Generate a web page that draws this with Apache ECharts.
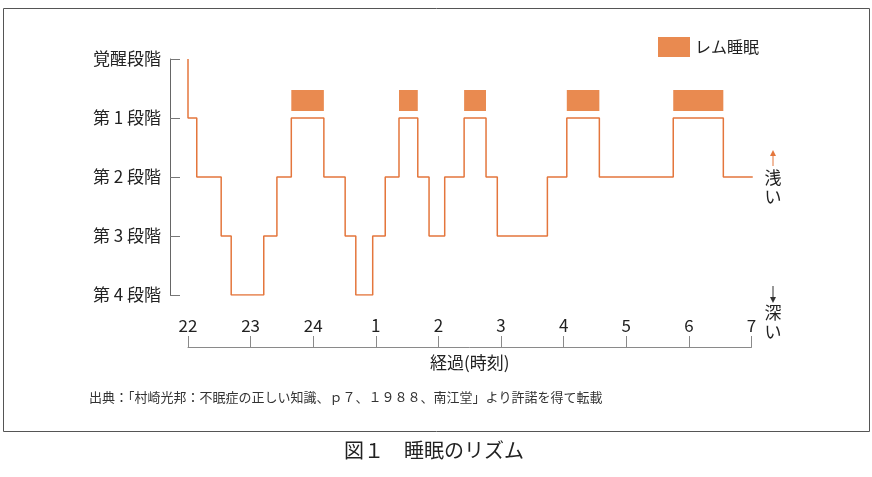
<!DOCTYPE html>
<html>
<head>
<meta charset="utf-8">
<script src="https://cdn.jsdelivr.net/npm/echarts@6/dist/echarts.min.js"></script>
<style>
  html, body { margin: 0; padding: 0; background: #fff; }
  #chart { width: 872px; height: 477px; }
</style>
</head>
<body>
<div id="chart"></div>
<script>
(function () {
var myChart = echarts.init(document.getElementById("chart"));

// 睡眠段階 (0 = 覚醒, 4 = 第4段階)
var stageLabels = ["覚醒段階", "第 1 段階", "第 2 段階", "第 3 段階", "第 4 段階"];
// 時刻 (22時からの経過時間, 1目盛 = 1時間)
var hourLabels = ["22", "23", "24", "1", "2", "3", "4", "5", "6", "7"];

// 段階が切り替わる時刻 [経過時間, 段階]
var hypnogram = [
    [0, 0], [0, 1], [0.14, 2], [0.53, 3], [0.69, 4], [1.21, 3], [1.42, 2],
    [1.65, 1], [2.17, 2], [2.51, 3], [2.68, 4], [2.95, 3], [3.15, 2],
    [3.37, 1], [3.67, 2], [3.85, 3], [4.1, 2], [4.41, 1], [4.76, 2],
    [4.94, 3], [5.74, 2], [6.05, 1], [6.57, 2], [7.75, 1], [8.55, 2], [9.02, 2]
];

// レム睡眠の期間 [開始, 終了]
var remPeriods = [
    [1.65, 2.17], [3.37, 3.67], [4.41, 4.76], [6.05, 6.57], [7.75, 8.55]
];

var font = "'Noto Sans CJK JP', sans-serif";
var lineColor = "#e4763c";
var remColor = "#e98a50";

option = {
    backgroundColor: "#fff",
    textStyle: { fontFamily: font },
    animation: false,
    grid: { left: 188, right: 120.5, top: 59, bottom: 182 },
    legend: {
        data: ["レム睡眠"],
        left: 658,
        top: 37,
        padding: 0,
        icon: "rect",
        itemWidth: 32,
        itemHeight: 20,
        itemGap: 8,
        textStyle: { fontSize: 16, color: "#222", fontFamily: font }
    },
    xAxis: {
        type: "value",
        position: "bottom",
        min: 0,
        max: 9,
        interval: 1,
        offset: 52,
        name: "経過(時刻)",
        nameLocation: "middle",
        nameGap: 7,
        nameTextStyle: { fontSize: 17, color: "#222", verticalAlign: "top" },
        axisLine: { onZero: false, lineStyle: { color: "#8a8a8a", width: 1 } },
        axisTick: { inside: true, length: 11, lineStyle: { color: "#8a8a8a" } },
        axisLabel: {
            inside: true,
            margin: 13,
            fontSize: 17,
            color: "#222",
            formatter: function (v) { return hourLabels[v]; }
        },
        splitLine: { show: false }
    },
    yAxis: {
        type: "value",
        inverse: true,
        min: 0,
        max: 4,
        interval: 1,
        offset: 18,
        axisLine: { show: true, onZero: false, lineStyle: { color: "#666", width: 1 } },
        axisTick: { show: true, inside: true, length: 10, lineStyle: { color: "#777" } },
        axisLabel: {
            margin: 9,
            fontSize: 17,
            color: "#222",
            formatter: function (v) { return stageLabels[v]; }
        },
        splitLine: { show: false }
    },
    series: [{
        type: "line",
        name: "睡眠段階",
        step: "end",
        data: hypnogram,
        symbol: "none",
        lineStyle: { color: lineColor, width: 1.5 },
        silent: true
    }, {
        type: "custom",
        name: "レム睡眠",
        data: remPeriods,
        encode: { x: [0, 1] },
        itemStyle: { color: remColor },
        clip: false,
        renderItem: function (params, api) {
            var p0 = api.coord([api.value(0), 1]);
            var p1 = api.coord([api.value(1), 1]);
            return {
                type: "rect",
                shape: { x: p0[0], y: p0[1] - 28, width: p1[0] - p0[0], height: 21 },
                style: { fill: remColor }
            };
        }
    }],
    graphic: [
        { type: "rect", shape: { x: 3.5, y: 8.5, width: 866, height: 423 },
          style: { fill: null, stroke: "#555", lineWidth: 1 }, silent: true },
        { type: "line", shape: { x1: 773, y1: 166, x2: 773, y2: 154 },
          style: { stroke: lineColor, lineWidth: 1 } },
        { type: "polygon", shape: { points: [[770, 156], [776, 156], [773, 150]] },
          style: { fill: lineColor } },
        { type: "text", x: 773, y: 168,
          style: { text: "浅\nい", font: "17px " + font, fill: "#222", align: "center", lineHeight: 19 } },
        { type: "line", shape: { x1: 773, y1: 286, x2: 773, y2: 299 },
          style: { stroke: "#333", lineWidth: 1 } },
        { type: "polygon", shape: { points: [[770, 297], [776, 297], [773, 303]] },
          style: { fill: "#333" } },
        { type: "text", x: 773, y: 303,
          style: { text: "深\nい", font: "17px " + font, fill: "#222", align: "center", lineHeight: 19 } },
        { type: "text", x: 89, y: 391,
          style: { text: "出典：「村崎光邦：不眠症の正しい知識、ｐ７、１９８８、南江堂」より許諾を得て転載",
                   font: "13px " + font, fill: "#333" } },
        { type: "text", x: 434, y: 440,
          style: { text: "図１　睡眠のリズム", font: "20px " + font, fill: "#222", align: "center" } }
    ]
};

myChart.setOption(option);
window.addEventListener("resize", function () {
    myChart.resize();
});
})();
</script>
</body>
</html>
